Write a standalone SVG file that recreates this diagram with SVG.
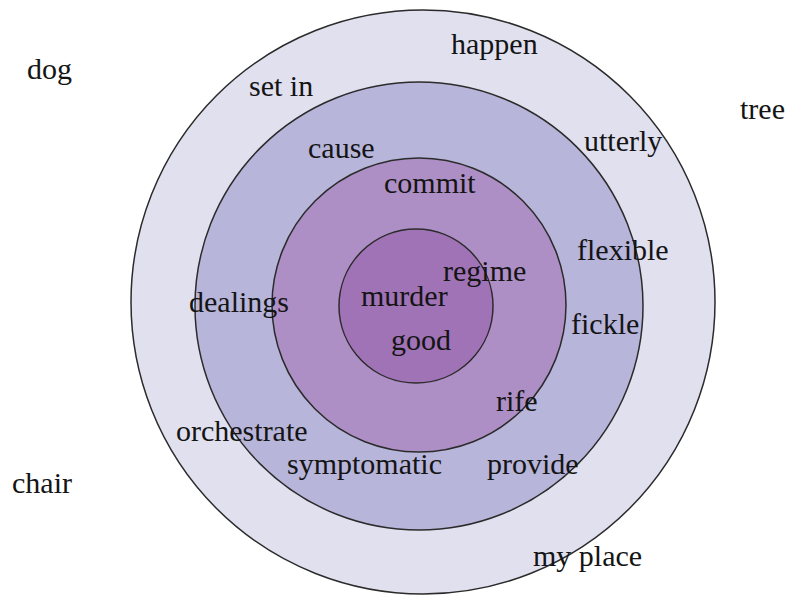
<svg xmlns="http://www.w3.org/2000/svg" width="787" height="596" viewBox="0 0 787 596">
<style>
.ring{stroke:#2b2b2b;stroke-width:1.5}
text{font-family:"Liberation Serif","Times New Roman",serif;font-size:30px;fill:#141414}
</style>
<rect width="787" height="596" fill="#ffffff"/>
<g id="ring-outer"><circle class="ring" cx="423" cy="302" r="292" fill="#e1e0ef"/></g>
<g id="ring-second"><circle class="ring" cx="419" cy="306" r="224" fill="#b8b5da"/></g>
<g id="ring-third"><circle class="ring" cx="419" cy="305" r="147" fill="#ad8fc6"/></g>
<g id="ring-inner"><circle class="ring" cx="416" cy="306" r="77" fill="#a072b6"/></g>
<g id="connectors"></g>
<g id="labels">
<text x="27" y="79">dog</text>
<text x="451" y="54">happen</text>
<text x="249" y="96">set in</text>
<text x="740" y="119">tree</text>
<text x="584" y="151">utterly</text>
<text x="308" y="158">cause</text>
<text x="384" y="193">commit</text>
<text x="577" y="260">flexible</text>
<text x="443" y="281">regime</text>
<text x="189" y="312">dealings</text>
<text x="361" y="306">murder</text>
<text x="571" y="334">fickle</text>
<text x="391" y="350">good</text>
<text x="496" y="411">rife</text>
<text x="176" y="441">orchestrate</text>
<text x="287" y="474">symptomatic</text>
<text x="487" y="474">provide</text>
<text x="12" y="493">chair</text>
<text x="533" y="566">my place</text>
</g>
</svg>
